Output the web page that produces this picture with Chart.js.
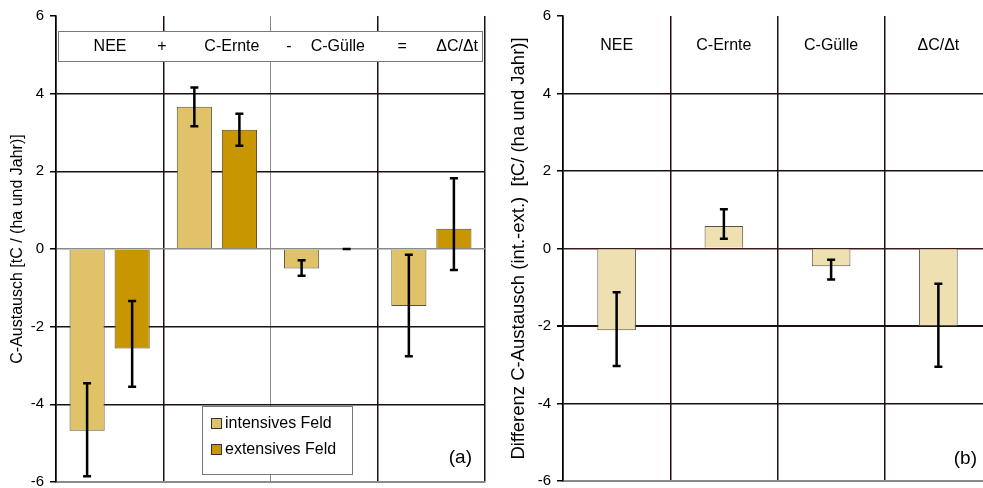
<!DOCTYPE html>
<html lang="de">
<head>
<meta charset="UTF-8">
<title>C-Austausch intensives / extensives Feld</title>
<script src="https://cdn.jsdelivr.net/npm/chart.js"></script>
<style>
  body { margin: 0; background: #fff; overflow: hidden; width: 983px; height: 488px; position: relative; }
  #boxA { position: absolute; left: 0; top: 0; width: 490px; height: 488px; }
  #boxB { position: absolute; left: 490px; top: 0; width: 502px; height: 488px; }
</style>
</head>
<body>
<div id="boxA"><canvas id="chartA"></canvas></div>
<div id="boxB"><canvas id="chartB"></canvas></div>
<script>
// Daten
const kategorien = ['NEE', 'C-Ernte', 'C-Gülle', 'ΔC/Δt'];
const kopfzeile = ['NEE', '+', 'C-Ernte', '-', 'C-Gülle', '=', 'ΔC/Δt'];
const yTicks = [-6, -4, -2, 0, 2, 4, 6];

const intensiv = [-4.68, 3.66, -0.50, -1.47];
const intensivOben = [-3.46, 4.16, -0.29, -0.15];
const intensivUnten = [-5.85, 3.16, -0.69, -2.76];

const extensiv = [-2.56, 3.07, 0.0, 0.52];
const extensivOben = [-1.34, 3.48, 0.0, 1.82];
const extensivUnten = [-3.55, 2.66, 0.0, -0.54];

const differenz = [-2.11, 0.58, -0.46, -2.00];
const differenzOben = [-1.13, 1.01, -0.29, -0.91];
const differenzUnten = [-3.03, 0.25, -0.80, -3.05];

const FONT = 'Arial, "Liberation Sans", sans-serif';
Chart.defaults.font.family = FONT;
Chart.defaults.color = '#000';
Chart.defaults.animation = false;

// Fehlerbalken
const fehlerPlugin = {
    id: 'fehler',
    afterDatasetsDraw(chart) {
        const ctx = chart.ctx;
        const y = chart.scales.y;
        chart.data.datasets.forEach((ds, di) => {
            const meta = chart.getDatasetMeta(di);
            meta.data.forEach((bar, i) => {
                const y1 = y.getPixelForValue(ds.oben[i]);
                const y2 = y.getPixelForValue(ds.unten[i]);
                ctx.save();
                ctx.strokeStyle = '#000';
                ctx.lineWidth = 2.5;
                ctx.beginPath();
                ctx.moveTo(bar.x, y1); ctx.lineTo(bar.x, y2);
                ctx.moveTo(bar.x - 4, y1); ctx.lineTo(bar.x + 4, y1);
                ctx.moveTo(bar.x - 4, y2); ctx.lineTo(bar.x + 4, y2);
                ctx.stroke();
                ctx.restore();
            });
        });
    }
};

// Kopfzeile, Legende und Beschriftung (a) im linken Diagramm
const dekoA = {
    id: 'dekoA',
    afterDatasetsDraw(chart) {
        const ctx = chart.ctx;
        const a = chart.chartArea;
        ctx.save();
        // Kopfzeile
        ctx.fillStyle = '#fff';
        ctx.strokeStyle = '#777';
        ctx.lineWidth = 1;
        ctx.fillRect(a.left + 2, a.top + 15, a.width - 4, 30);
        ctx.strokeRect(a.left + 2.5, a.top + 15.5, a.width - 5, 30);
        ctx.fillStyle = '#000';
        ctx.font = '16px ' + FONT;
        ctx.textAlign = 'center';
        ctx.textBaseline = 'middle';
        const pos = [0.126, 0.247, 0.410, 0.543, 0.657, 0.807, 0.935];
        kopfzeile.forEach((t, i) => ctx.fillText(t, a.left + pos[i] * a.width, a.top + 31));
        // Legende
        const lx = a.left + 146, ly = a.bottom - 76;
        ctx.fillStyle = '#fff';
        ctx.fillRect(lx, ly, 150, 68);
        ctx.strokeStyle = '#777';
        ctx.strokeRect(lx + 0.5, ly + 0.5, 150, 68);
        ctx.textAlign = 'left';
        ctx.font = '16px ' + FONT;
        chart.data.datasets.forEach((ds, i) => {
            const ry = ly + 18 + i * 26;
            ctx.fillStyle = ds.backgroundColor;
            ctx.fillRect(lx + 9, ry - 6, 11, 11);
            ctx.strokeStyle = '#333';
            ctx.strokeRect(lx + 9.5, ry - 5.5, 10, 10);
            ctx.fillStyle = '#000';
            ctx.fillText(ds.label, lx + 23, ry);
        });
        // (a)
        ctx.font = '19px ' + FONT;
        ctx.textAlign = 'right';
        ctx.fillText('(a)', a.right - 13, a.bottom - 24);
        ctx.restore();
    }
};

// Kategorienamen und (b) im rechten Diagramm
const dekoB = {
    id: 'dekoB',
    afterDatasetsDraw(chart) {
        const ctx = chart.ctx;
        const a = chart.chartArea;
        const x = chart.scales.x;
        ctx.save();
        ctx.fillStyle = '#000';
        ctx.font = '16px ' + FONT;
        ctx.textAlign = 'center';
        ctx.textBaseline = 'middle';
        kategorien.forEach((k, i) => ctx.fillText(k, x.getPixelForValue(i), a.top + 30));
        ctx.font = '19px ' + FONT;
        ctx.textAlign = 'right';
        ctx.fillText('(b)', a.right - 15, a.bottom - 22);
        ctx.restore();
    }
};

function yAchse(titel, breite, titelGroesse, titelAbstand, ySpalte) {
    return {
        min: -6, max: 6,
        afterBuildTicks: s => { s.ticks = yTicks.map(v => ({ value: v })); },
        afterFit: s => { s.width = breite; s.paddingTop = 0; s.paddingBottom = 0; },
        ticks: { font: { size: 15 }, padding: 6, color: '#000' },
        border: { color: '#000', width: 1.5 },
        grid: {
            tickLength: 6,
            tickColor: '#000',
            lineWidth: ctx => (ctx.tick && ctx.tick.value === ySpalte ? 2 : 1.5),
            color: ctx => {
                const v = ctx.tick ? ctx.tick.value : null;
                if (v === 6 || v === -6) return 'rgba(0,0,0,0)';
                if (v === 0) return ySpalte === null ? '#8a8a8a' : '#3a1a1a';
                return '#1e1010';
            }
        },
        title: { display: true, text: titel, font: { size: titelGroesse }, padding: { top: titelAbstand, bottom: 0 } }
    };
}

function xAchse(farben) {
    return {
        afterFit: s => { s.height = 0; },
        ticks: { display: false },
        border: { color: '#8a8a8a', width: 2 },
        grid: {
            offset: true,
            drawTicks: false,
            color: ctx => farben[ctx.index] || '#1e1010',
            lineWidth: ctx => (farben[ctx.index] === '#8a8a8a' ? 1 : 1.5)
        }
    };
}

new Chart(document.getElementById('chartA'), {
    type: 'bar',
    data: {
        labels: kategorien,
        datasets: [
            { label: 'intensives Feld', data: intensiv, oben: intensivOben, unten: intensivUnten,
              backgroundColor: '#e0c268', borderColor: '#5a5040', borderWidth: 1 },
            { label: 'extensives Feld', data: extensiv, oben: extensivOben, unten: extensivUnten,
              backgroundColor: '#c89600', borderColor: '#5a4a20', borderWidth: 1 }
        ]
    },
    options: {
        responsive: true,
        maintainAspectRatio: false,
        categoryPercentage: 0.84,
        barPercentage: 0.78,
        layout: { padding: { top: 16, right: 5, bottom: 6, left: 0 } },
        plugins: { legend: { display: false }, tooltip: { enabled: false } },
        scales: {
            x: xAchse(['#000', '#1e1010', '#8a8a8a', '#1e1010', '#8a8a8a']),
            y: yAchse('C-Austausch [tC / (ha und Jahr)]', 56, 16, 8, null)
        }
    },
    plugins: [fehlerPlugin, dekoA]
});

new Chart(document.getElementById('chartB'), {
    type: 'bar',
    data: {
        labels: kategorien,
        datasets: [
            { label: 'Differenz', data: differenz, oben: differenzOben, unten: differenzUnten,
              backgroundColor: '#eee0b0', borderColor: '#5a5040', borderWidth: 1 }
        ]
    },
    options: {
        responsive: true,
        maintainAspectRatio: false,
        categoryPercentage: 0.36,
        barPercentage: 1.0,
        layout: { padding: { top: 16, right: 0, bottom: 7, left: 0 } },
        plugins: { legend: { display: false }, tooltip: { enabled: false } },
        scales: {
            x: xAchse(['#000', '#1e1010', '#1e1010', '#1e1010', '#1e1010']),
            y: yAchse('Differenz C-Austausch (int.-ext.)  [tC/ (ha und Jahr)]', 73, 18.5, 18, -2)
        }
    },
    plugins: [fehlerPlugin, dekoB]
});
</script>
</body>
</html>
